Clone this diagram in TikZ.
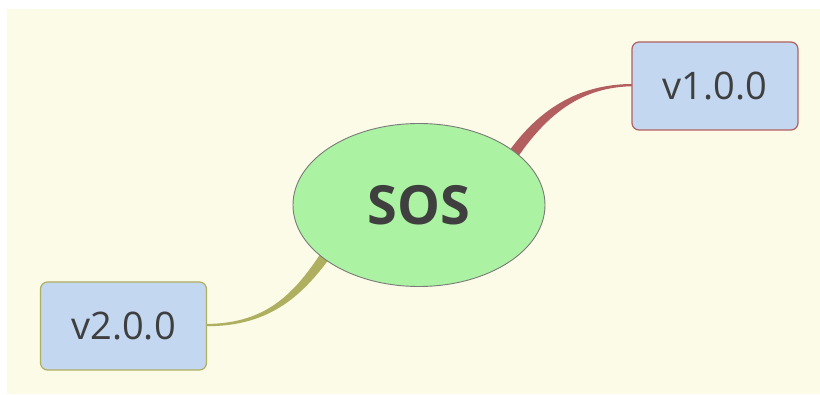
\documentclass[tikz,border=0pt]{standalone}
\usepackage{fontspec}
\setmainfont{Open Sans}
\usetikzlibrary{shapes.geometric}
\definecolor{bgc}{HTML}{FCFBE8}
\definecolor{ellfill}{HTML}{ABF2A2}
\definecolor{ellline}{HTML}{7A7A7A}
\definecolor{boxfill}{HTML}{C3D7F0}
\definecolor{redc}{HTML}{B35F60}
\definecolor{olivec}{HTML}{AFAF60}
\definecolor{txt}{HTML}{3F3F3F}
\tikzset{
  verbox/.style={draw, line width=1.2pt, rounded corners=7pt, fill=boxfill,
    minimum width=166pt, minimum height=88pt, inner sep=0pt, text=txt,
    font=\fontsize{38}{44}\selectfont},
  central/.style={ellipse, draw=ellline, line width=0.9pt, fill=ellfill,
    minimum width=252pt, minimum height=163pt, inner sep=0pt, text=txt,
    font=\fontsize{54}{62}\selectfont\bfseries}
}
\begin{document}
\begin{tikzpicture}[x=1pt,y=-1pt]
\useasboundingbox (0,0) rectangle (820,395);
\fill[white] (0,0) rectangle (820,395);
\fill[bgc] (7,9) rectangle (820,394);
% coordinates
\coordinate (c) at (419,205);
% connectors (tapered)
\coordinate (r0) at (505,166);
\coordinate (r1) at (633,85);
\fill[redc] (501,163) .. controls (536,108) and (580,83.9) .. (633,84)
  -- (633,86.2) .. controls (582,87) and (545,113) .. (510,169) -- cycle;
\coordinate (o0) at (332,245);
\coordinate (o1) at (206,325);
\fill[olivec] (206,324) .. controls (270,323.5) and (298,290) .. (328,242)
  -- (337,248) .. controls (305,294) and (272,326.5) .. (206,326.2) -- cycle;
% nodes
\node[central] (sos) at (c) {SOS};
\node[verbox, draw=redc] (v1) at (715,86) {v1.0.0};
\node[verbox, draw=olivec] (v2) at (123.5,326) {v2.0.0};
\end{tikzpicture}
\end{document}
